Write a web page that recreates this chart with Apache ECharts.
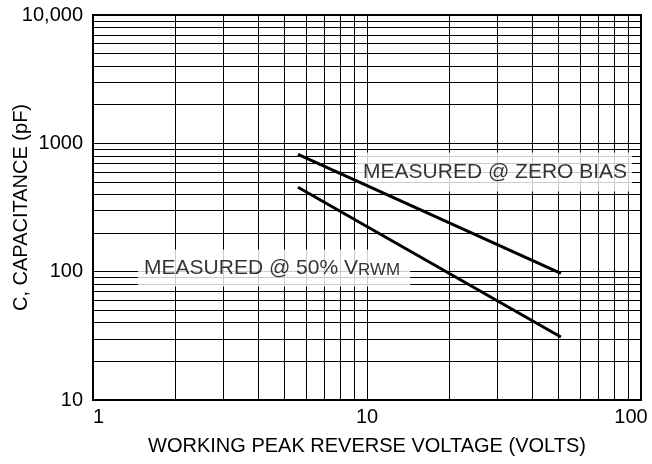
<!DOCTYPE html>
<html>
<head>
<meta charset="utf-8">
<title>Capacitance vs Working Peak Reverse Voltage</title>
<script src="https://cdn.jsdelivr.net/npm/echarts@6/dist/echarts.min.js"></script>
<style>
  html, body { margin: 0; padding: 0; background: #fff; }
  #chart { width: 652px; height: 464px; }
</style>
</head>
<body>
<div id="chart"></div>
<script>
// grid / tick values (log-log paper)
const xGrid = [1, 2, 3, 4, 5, 6, 7, 8, 9, 10, 20, 30, 40, 50, 60, 70, 80, 90, 100]
const yGrid = [10, 20, 30, 40, 50, 60, 70, 80, 90, 100, 200, 300, 400, 500, 600, 700, 800, 900,
  1000, 2000, 3000, 4000, 5000, 6000, 7000, 8000, 9000, 10000]
const xTicks = [1, 10, 100]
const yTicks = [10, 100, 1000, 10000]
const yTickLabels = ['10', '100', '1000', '10,000']

// curves: [volts, pF]
const zeroBias = [[5.6, 820], [51, 97]]
const halfVrwm = [[5.6, 455], [51, 31]]

// where the two captions sit
const zeroBiasNote = [[29.1, 598]]
const halfVrwmNote = [[4.58, 107]]

const font = '"Liberation Sans", Arial, Helvetica, sans-serif'

const chart = echarts.init(document.getElementById('chart'))
const option = {
  animation: false,
  backgroundColor: '#fff',
  textStyle: { fontFamily: font, color: '#000' },
  grid: {
    left: 93, right: 11, top: 15, bottom: 64,
    outerBoundsMode: 'none',
    containLabel: false,
    show: true, borderColor: '#000', borderWidth: 2, backgroundColor: 'transparent'
  },
  xAxis: {
    type: 'log',
    logBase: 10,
    min: 1,
    max: 100,
    name: 'WORKING PEAK REVERSE VOLTAGE (VOLTS)',
    nameLocation: 'middle',
    nameGap: 36,
    nameTextStyle: { fontSize: 20, color: '#000', fontFamily: font },
    axisLine: { show: true, lineStyle: { color: '#000', width: 2 } },
    axisTick: { show: false, customValues: xGrid },
    axisLabel: {
      customValues: xTicks,
      fontSize: 20, color: '#000', fontFamily: font, margin: 7,
      alignMinLabel: 'left',
      formatter: function (v) {
        // last label sits a little to the left of its tick, like the original
        return v >= 100 ? '{m|' + v + '}' : String(v)
      },
      rich: {
        m: { fontSize: 20, color: '#000', fontFamily: font, padding: [0, 20, 0, 0] }
      }
    },
    splitLine: { show: true, lineStyle: { color: '#000', width: 1 } }
  },
  yAxis: {
    type: 'log',
    logBase: 10,
    min: 10,
    max: 10000,
    name: 'C, CAPACITANCE (pF)',
    nameLocation: 'middle',
    nameGap: 62,
    nameMoveOverlap: false,
    nameTextStyle: { fontSize: 20, color: '#000', fontFamily: font },
    axisLine: { show: true, lineStyle: { color: '#000', width: 2 } },
    axisTick: { show: false, customValues: yGrid },
    axisLabel: {
      customValues: yTicks,
      fontSize: 20, color: '#000', fontFamily: font, margin: 10,
      formatter: function (v) {
        const i = yTicks.indexOf(Math.round(v))
        return i >= 0 ? yTickLabels[i] : ''
      }
    },
    splitLine: { show: true, lineStyle: { color: '#000', width: 1 } }
  },
  series: [
    {
      type: 'scatter',
      data: zeroBiasNote,
      symbolSize: 0,
      z: 2,
      silent: true,
      label: {
        show: true,
        position: 'inside',
        formatter: 'MEASURED @ ZERO BIAS',
        fontSize: 21,
        color: '#000',
        fontFamily: font,
        backgroundColor: '#fff',
        padding: [9, 5, 9, 7]
      }
    },
    {
      type: 'scatter',
      data: halfVrwmNote,
      symbolSize: 0,
      z: 2,
      silent: true,
      label: {
        show: true,
        position: 'inside',
        formatter: '{a|MEASURED @ 50% V}{b|RWM}',
        color: '#000',
        fontFamily: font,
        backgroundColor: '#fff',
        padding: [8, 10, 8, 6],
        rich: {
          a: { fontSize: 21, lineHeight: 21, verticalAlign: 'top', color: '#000', fontFamily: font },
          b: { fontSize: 17, lineHeight: 17, verticalAlign: 'bottom', padding: [7, 0, 0, 0], color: '#000', fontFamily: font }
        }
      }
    },
    {
      name: 'zero bias',
      type: 'line',
      data: zeroBias,
      symbol: 'none',
      z: 4,
      lineStyle: { color: '#000', width: 3 }
    },
    {
      name: '50% VRWM',
      type: 'line',
      data: halfVrwm,
      symbol: 'none',
      z: 4,
      lineStyle: { color: '#000', width: 3 }
    }
  ]
}
chart.setOption(option)
window.addEventListener('resize', function () {
  chart.resize()
})
</script>
</body>
</html>
